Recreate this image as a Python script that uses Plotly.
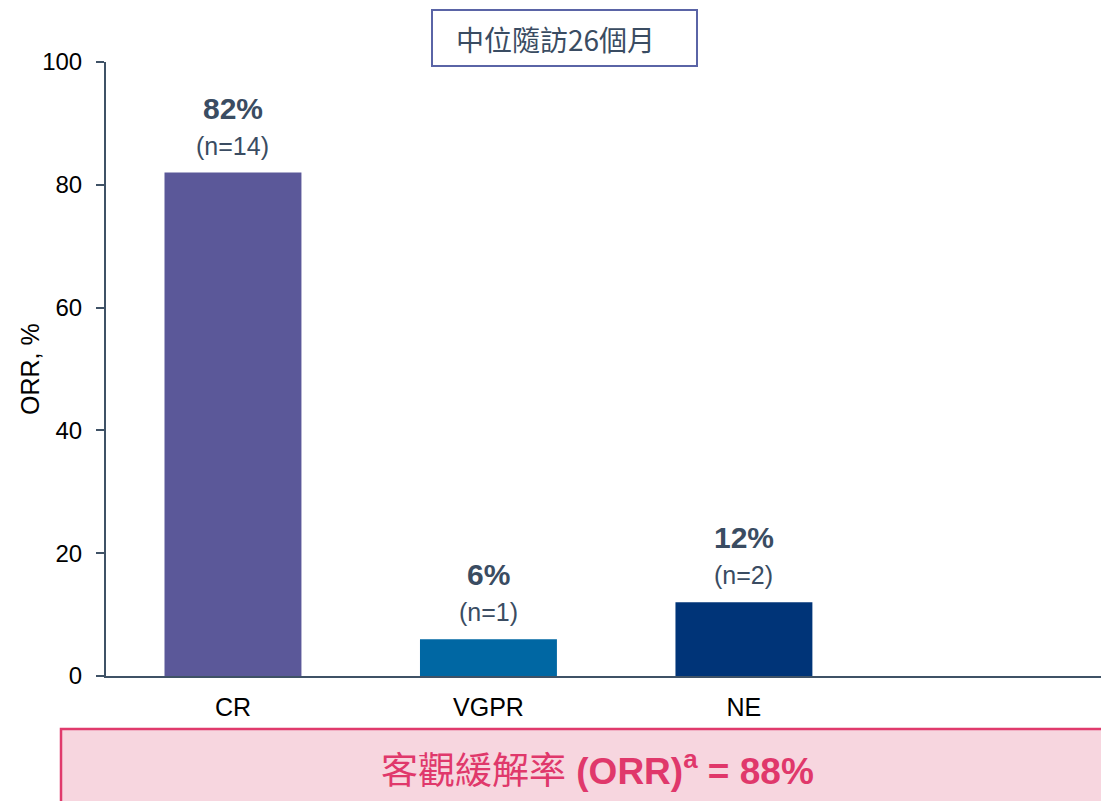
import plotly.graph_objects as go

categories = ["CR", "VGPR", "NE"]
values = [82, 6, 12]
pct_labels = ["82%", "6%", "12%"]
n_labels = ["(n=14)", "(n=1)", "(n=2)"]
bar_colors = ["#5b5899", "#0067a3", "#003478"]
y_ticks = [0, 20, 40, 60, 80, 100]
y_title = "ORR, %"
title_text = "中位隨訪26個月"
orr_text = "客觀緩解率 <b>(ORR)<sup>a</sup> = 88%</b>"

FONT = "Liberation Sans, Arial, Noto Sans CJK TC, sans-serif"
AXIS = "#3f5266"
LABEL = "#3a4c62"

fig = go.Figure()
fig.add_trace(go.Bar(
    x=categories, y=values, marker_color=bar_colors, width=0.536,
    marker_line_width=0, showlegend=False, hoverinfo="skip",
))

for c, v, p, n in zip(categories, values, pct_labels, n_labels):
    fig.add_annotation(x=c, y=v, text=n, showarrow=False, yanchor="bottom",
                       yshift=11, font=dict(family=FONT, size=25, color=LABEL))
    fig.add_annotation(x=c, y=v, text="<b>" + p + "</b>", showarrow=False,
                       yanchor="bottom", yshift=46,
                       font=dict(family=FONT, size=30, color=LABEL))

# page body has an 8px margin; work in reference pixel coordinates
OFF = 8
W, H = 1109 - OFF, 801 - OFF
L, R, T, B = 106 - OFF, 0, 62 - OFF, 125
pw, ph = W - L - R, H - T - B

def px(x):
    return (x - OFF - L) / pw

def py(y):
    return (H - B - (y - OFF)) / ph

# y-axis title
fig.add_annotation(xref="paper", yref="paper", x=px(30), y=py(369), text=y_title,
                   textangle=-90, showarrow=False, xanchor="center", yanchor="middle",
                   font=dict(family=FONT, size=25, color="black"))

# title box
fig.add_shape(type="rect", xref="paper", yref="paper",
              x0=px(432), x1=px(697), y0=py(66), y1=py(10),
              line=dict(color="#5a64a6", width=2), fillcolor="white", layer="above")
fig.add_annotation(xref="paper", yref="paper", x=px(555), y=py(39), text=title_text,
                   showarrow=False, xanchor="center", yanchor="middle",
                   font=dict(family="Noto Sans CJK TC, Liberation Sans", size=28, color=LABEL))

# ORR box
fig.add_shape(type="rect", xref="paper", yref="paper",
              x0=px(61), x1=px(1125), y0=py(820), y1=py(729),
              line=dict(color="#e03a6c", width=2.5), fillcolor="#f7d6df", layer="above")
fig.add_annotation(xref="paper", yref="paper", x=px(597), y=py(768), text=orr_text,
                   showarrow=False, xanchor="center", yanchor="middle",
                   font=dict(family="Liberation Sans, Noto Sans CJK TC", size=37, color="#e0386b"))

fig.update_layout(
    width=W, height=H,
    margin=dict(l=L, r=R, t=T, b=B, pad=0),
    paper_bgcolor="white", plot_bgcolor="white",
    font=dict(family=FONT, size=24, color="black"),
    bargap=0.464,
    xaxis=dict(range=[-0.497, 3.429], showline=True, linecolor=AXIS, linewidth=2,
               ticks="", showgrid=False, zeroline=False, ticklabelstandoff=8,
               tickfont=dict(family=FONT, size=25, color="black")),
    yaxis=dict(range=[0, 100], tickvals=y_ticks, showline=True, linecolor=AXIS,
               linewidth=2, ticks="outside", ticklen=8, tickcolor=AXIS, tickwidth=2,
               showgrid=False, zeroline=False, ticklabelstandoff=9,
               tickfont=dict(family=FONT, size=24, color="black")),
)

fig.write_html("out.html")
